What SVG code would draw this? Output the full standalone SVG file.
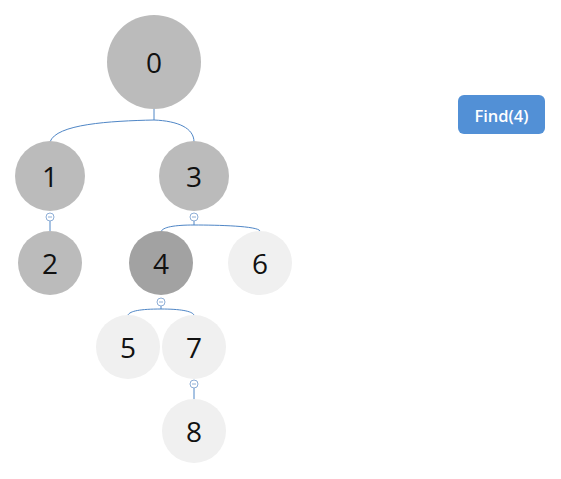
<svg xmlns="http://www.w3.org/2000/svg" width="561" height="479" viewBox="0 0 561 479">
<style>
.n text{font-family:"Open Sans","Noto Sans","DejaVu Sans",sans-serif;font-size:28px;fill:#111;text-anchor:middle;dominant-baseline:central}
.a{fill:#bbbbbb}.b{fill:#a2a2a2}.c{fill:#f0f0f0}
.e{fill:none;stroke:#4f86c6;stroke-width:1}
.btn circle{fill:#fff;stroke:#8eaed6;stroke-width:1}
.btn line{stroke:#8eaed6;stroke-width:1}
</style>
<rect width="561" height="479" fill="#fff"/>
<g id="connectors">
<path class="e" d="M154,108 V120 M154,120 C110,121 56,124 50,142 M154,120 C178,121 194,128 194,142"/>
<path class="e" d="M50,221 V231"/>
<path class="e" d="M194,221 V225 C175,225 162,227 161,232 M194,225 C218,225 258,226 260,231"/>
<path class="e" d="M161,306 V309 C140,309 130,311 128,315 M161,309 C180,309 192,311 194,315"/>
<path class="e" d="M194,388 V400"/>
</g>
<g id="node0" class="n"><circle class="a" cx="154" cy="62" r="47"/><text x="154" y="62">0</text></g>
<g id="node1" class="n"><circle class="a" cx="50" cy="176" r="35"/><text x="50" y="176">1</text></g>
<g id="node3" class="n"><circle class="a" cx="194" cy="176" r="35"/><text x="194" y="176">3</text></g>
<g id="node2" class="n"><circle class="a" cx="50" cy="263" r="32"/><text x="50" y="263">2</text></g>
<g id="node4" class="n"><circle class="b" cx="161" cy="263" r="32"/><text x="161" y="263">4</text></g>
<g id="node6" class="n"><circle class="c" cx="260" cy="263" r="32"/><text x="260" y="263">6</text></g>
<g id="node5" class="n"><circle class="c" cx="128" cy="347" r="32"/><text x="128" y="347">5</text></g>
<g id="node7" class="n"><circle class="c" cx="194" cy="347" r="32"/><text x="194" y="347">7</text></g>
<g id="node8" class="n"><circle class="c" cx="194" cy="431" r="32"/><text x="194" y="431">8</text></g>
<g id="buttons">
<g class="btn"><circle cx="50" cy="217" r="4"/><line x1="48" y1="217" x2="52" y2="217"/></g>
<g class="btn"><circle cx="194" cy="217" r="4"/><line x1="192" y1="217" x2="196" y2="217"/></g>
<g class="btn"><circle cx="161" cy="302" r="4"/><line x1="159" y1="302" x2="163" y2="302"/></g>
<g class="btn"><circle cx="194" cy="384" r="4"/><line x1="192" y1="384" x2="196" y2="384"/></g>
</g>
<g id="find">
<rect x="458" y="95" width="87" height="39" rx="6" fill="#5290d6"/>
<text x="501.5" y="115" font-family="'Open Sans','Noto Sans',sans-serif" font-size="16.5" font-weight="600" fill="#fff" text-anchor="middle" dominant-baseline="central">Find(4)</text>
</g>
</svg>
